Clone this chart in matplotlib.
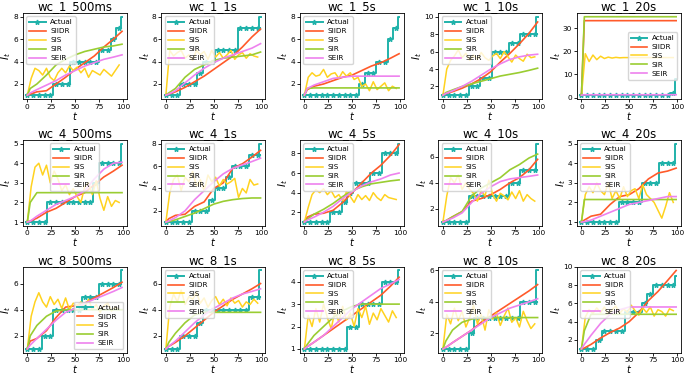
import numpy as np
import matplotlib
matplotlib.use('Agg')
import matplotlib.pyplot as plt

# panel titles, row by row
titles = ['wc_1_500ms', 'wc_1_1s', 'wc_1_5s', 'wc_1_10s', 'wc_1_20s',
          'wc_4_500ms', 'wc_4_1s', 'wc_4_5s', 'wc_4_10s', 'wc_4_20s',
          'wc_8_500ms', 'wc_8_1s', 'wc_8_5s', 'wc_8_10s', 'wc_8_20s']

# time points of each series
t_act = list(range(0, 100, 6)) + [99]
t_mod = [0, 3, 10, 20, 30, 40, 50, 60, 70, 80, 90, 99]
t_sis = list(range(0, 100, 4))

actual = [
    [1, 1, 1, 1, 1, 2, 2, 2, 4, 4, 4, 4, 4, 5, 5, 6, 7, 8],
    [1, 1, 1, 2, 2, 2, 3, 4, 4, 5, 5, 5, 5, 7, 7, 7, 7, 8],
    [1, 1, 1, 1, 1, 1, 1, 1, 1, 1, 2, 3, 3, 4, 4, 6, 7, 8],
    [1, 1, 1, 1, 1, 2, 2, 3, 3, 6, 6, 6, 7, 7, 8, 8, 8, 10],
    [1, 1, 1, 1, 1, 1, 1, 1, 1, 1, 1, 1, 1, 1, 1, 1, 2, 8],
    [1, 1, 1, 1, 2, 2, 2, 2, 2, 2, 2, 2, 3, 4, 4, 4, 4, 5],
    [1, 1, 1, 1, 1, 2, 2, 2, 3, 4, 4, 5, 6, 6, 6, 7, 7, 8],
    [1, 1, 1, 1, 1, 2, 2, 3, 4, 5, 5, 5, 6, 6, 8, 8, 8, 9],
    [1, 1, 1, 1, 1, 3, 3, 3, 3, 3, 3, 3, 4, 4, 5, 5, 5, 7],
    [1, 1, 1, 1, 1, 1, 1, 2, 2, 2, 2, 3, 3, 3, 4, 4, 4, 5],
    [1, 1, 1, 2, 2, 4, 4, 4, 4, 4, 5, 5, 5, 6, 6, 6, 6, 7],
    [1, 1, 1, 2, 2, 2, 3, 4, 4, 4, 4, 4, 4, 4, 4, 5, 5, 7],
    [1, 1, 1, 1, 1, 1, 1, 1, 2, 2, 3, 3, 3, 3, 4, 4, 4, 4.5],
    [1, 1, 1, 1, 1, 2, 3, 3, 3, 3, 3, 3, 3, 3, 4, 4, 4, 6],
    [1, 1, 1, 2, 3, 3, 3, 3, 5, 5, 5, 6, 7, 8, 8, 8, 8, 9],
]

siidr = [
    [1, 1.1, 1.3, 1.4, 2.0, 2.6, 3.3, 3.9, 4.5, 5.3, 6.0, 6.7],
    [1, 1.1, 1.3, 1.7, 2.2, 2.7, 3.3, 3.9, 4.5, 5.3, 6.2, 6.9],
    [1, 1.5, 1.8, 2.0, 2.3, 2.6, 2.8, 3.2, 3.6, 3.9, 4.3, 4.7],
    [1, 1.2, 1.4, 1.8, 2.3, 2.9, 3.7, 4.8, 5.8, 6.9, 8.1, 9.4],
    [1, 33.3, 33.3, 33.3, 33.3, 33.3, 33.3, 33.3, 33.3, 33.3, 33.3, 33.3],
    [1, 1.05, 1.2, 1.5, 1.7, 2.0, 2.3, 2.5, 2.9, 3.3, 3.6, 3.9],
    [1, 1.3, 1.6, 1.7, 2.4, 2.8, 4.0, 4.5, 5.8, 6.2, 6.8, 7.4],
    [1, 1.5, 1.8, 1.9, 2.2, 3.0, 4.0, 5.0, 6.0, 6.8, 7.8, 8.9],
    [1, 1.1, 1.4, 1.8, 2.6, 2.8, 3.1, 3.5, 4.0, 4.4, 5.0, 5.8],
    [1, 1.1, 1.3, 1.4, 1.9, 2.3, 2.4, 2.7, 3.2, 3.5, 3.6, 3.75],
    [1, 1.6, 1.8, 2.4, 3.4, 4.2, 4.3, 4.5, 4.9, 5.3, 5.7, 6.1],
    [1, 1.2, 1.5, 2.0, 2.6, 3.2, 3.8, 4.3, 4.8, 5.2, 5.6, 6.0],
    [1, 1.1, 1.3, 1.6, 1.9, 2.2, 2.5, 2.8, 3.1, 3.4, 3.8, 4.2],
    [1, 1.1, 1.4, 1.8, 2.2, 2.7, 3.1, 3.5, 3.9, 4.3, 4.7, 5.1],
    [1, 1.1, 1.5, 2.2, 2.8, 3.3, 4.0, 5.0, 6.3, 7.3, 8.5, 9.6],
]

sir = [
    [1, 1.6, 2.0, 2.8, 3.7, 4.2, 4.6, 4.9, 5.1, 5.3, 5.4, 5.55],
    [1, 1.2, 1.6, 2.6, 3.3, 3.7, 4.1, 4.3, 4.4, 4.5, 4.6, 4.85],
    [1, 1.6, 1.65, 1.65, 1.65, 1.65, 1.65, 1.65, 1.65, 1.65, 1.65, 1.65],
    [1, 1.3, 1.6, 2.0, 2.3, 2.6, 2.9, 3.2, 3.4, 3.6, 3.85, 4.1],
    [1, 35, 35, 35, 35, 35, 35, 35, 35, 35, 35, 35],
    [1, 2.0, 2.5, 2.5, 2.5, 2.5, 2.5, 2.5, 2.5, 2.5, 2.5, 2.5],
    [1, 1.05, 1.2, 1.5, 1.8, 2.2, 2.6, 2.85, 3.0, 3.1, 3.15, 3.15],
    [1, 1.3, 1.8, 2.3, 2.9, 3.6, 4.2, 4.6, 4.9, 5.05, 5.2, 5.3],
    [1, 1.1, 1.4, 1.8, 3.0, 3.6, 4.0, 4.4, 5.0, 5.4, 5.9, 6.2],
    [1, 2.15, 2.15, 2.15, 2.15, 2.15, 2.15, 2.15, 2.15, 2.15, 2.15, 2.15],
    [1, 2.0, 2.8, 3.5, 3.9, 4.0, 4.0, 4.0, 4.0, 4.0, 4.0, 4.0],
    [1, 1.5, 2.2, 3.0, 3.6, 3.8, 3.8, 3.8, 3.8, 3.8, 3.8, 3.8],
    [1, 1.2, 1.6, 2.0, 2.4, 2.7, 2.9, 3.0, 3.0, 3.0, 3.0, 3.0],
    [1, 1.5, 2.2, 2.7, 2.9, 3.0, 3.0, 3.0, 3.0, 3.0, 3.0, 3.0],
    [1, 3.0, 4.8, 4.8, 4.8, 4.8, 4.8, 4.8, 4.8, 4.8, 4.8, 4.8],
]

seir = [
    [1, 1.2, 1.5, 1.9, 2.3, 2.8, 3.2, 3.6, 3.9, 4.2, 4.4, 4.6],
    [1, 1.1, 1.4, 2.1, 2.8, 3.4, 3.9, 4.3, 4.6, 4.9, 5.2, 5.6],
    [1, 1.6, 1.9, 2.2, 2.5, 2.6, 2.7, 2.7, 2.7, 2.7, 2.7, 2.7],
    [1, 1.2, 1.5, 2.0, 2.6, 3.3, 4.0, 4.6, 5.1, 5.4, 5.6, 5.7],
    [1, 1.2, 1.2, 1.2, 1.2, 1.2, 1.2, 1.2, 1.2, 1.2, 1.2, 1.2],
    [1, 1.05, 1.3, 1.6, 1.9, 2.1, 2.3, 2.6, 3.2, 3.7, 4.0, 4.05],
    [1, 1.1, 1.4, 2.0, 3.0, 3.8, 4.6, 5.3, 5.8, 6.1, 6.4, 6.7],
    [1, 1.2, 1.5, 2.0, 2.6, 3.4, 4.1, 4.7, 5.1, 5.4, 5.8, 6.0],
    [1, 1.1, 1.3, 1.7, 2.5, 3.2, 3.7, 4.1, 4.3, 4.4, 4.5, 4.6],
    [1, 1.02, 1.1, 1.3, 1.5, 1.7, 1.9, 2.0, 2.1, 2.2, 2.3, 2.3],
    [1, 1.3, 1.8, 2.5, 3.2, 3.8, 4.1, 4.5, 4.8, 5.1, 5.4, 5.7],
    [1, 1.2, 1.6, 2.3, 3.0, 3.6, 4.1, 4.5, 4.9, 5.2, 5.4, 5.6],
    [1, 1.1, 1.3, 1.6, 2.0, 2.4, 2.8, 3.1, 3.4, 3.7, 3.9, 4.1],
    [1, 1.1, 1.4, 1.8, 2.2, 2.6, 3.0, 3.3, 3.6, 3.8, 4.0, 4.2],
    [1, 1.5, 2.5, 3.8, 4.8, 5.3, 5.6, 5.6, 5.6, 5.6, 5.6, 5.6],
]

sis = [
    [1, 2.5, 3.4, 3.2, 2.8, 3.4, 2.6, 2.3, 3.0, 3.4, 3.0, 3.6, 3.2, 3.5, 3.0, 3.4, 2.6, 3.2, 3.0, 2.8, 3.3, 3.0, 2.7, 3.2, 3.7],
    [1, 5.0, 4.5, 4.8, 5.0, 4.3, 4.6, 4.1, 5.0, 4.6, 4.9, 4.2, 5.0, 4.4, 4.8, 4.3, 4.6, 5.0, 4.2, 4.6, 4.8, 4.3, 4.7, 4.5, 4.4],
    [1, 2.6, 3.0, 2.7, 2.8, 3.3, 2.6, 2.9, 3.0, 2.5, 3.1, 2.7, 3.0, 2.4, 2.6, 1.8, 2.0, 1.4, 2.2, 1.5, 1.8, 2.1, 1.4, 1.8, 1.6],
    [1, 4.0, 5.0, 5.5, 6.2, 5.3, 5.8, 5.0, 5.6, 5.1, 5.9, 5.3, 5.0, 5.5, 5.8, 5.2, 6.0, 5.4, 4.8, 5.6, 5.2, 4.9, 5.7, 5.3, 5.4],
    [1, 19.0, 15.6, 18.4, 16.4, 17.9, 16.9, 17.5, 17.1, 17.4, 17.2, 17.3, 17.3, 17.3, 17.3, 17.3, 17.3, 17.3, 17.3, 17.3, 17.3, 17.3, 17.3, 17.3, 17.3],
    [1, 2.8, 3.8, 4.0, 3.4, 3.9, 3.0, 3.6, 3.2, 2.6, 2.9, 2.4, 2.7, 2.3, 2.0, 2.8, 3.0, 2.4, 3.1, 2.2, 1.6, 2.3, 1.8, 2.1, 2.0],
    [1, 3.6, 4.8, 5.2, 3.8, 5.0, 4.6, 5.5, 4.2, 4.8, 3.8, 5.2, 4.6, 5.0, 4.2, 4.8, 4.4, 4.6, 4.9, 3.2, 4.0, 3.6, 4.8, 4.3, 4.4],
    [1, 2.5, 3.8, 4.3, 4.0, 4.4, 3.8, 4.2, 3.5, 3.8, 3.2, 4.1, 3.6, 3.0, 3.8, 3.3, 3.7, 3.2, 4.0, 3.5, 3.2, 3.8, 3.5, 3.4, 3.3],
    [1, 3.0, 4.4, 4.0, 4.6, 3.5, 4.0, 3.5, 3.2, 2.6, 3.4, 3.0, 4.2, 3.1, 2.6, 3.2, 3.0, 2.7, 3.3, 2.8, 3.4, 2.6, 3.1, 2.8, 2.6],
    [1, 2.4, 2.8, 2.5, 3.0, 2.6, 2.4, 3.0, 2.2, 2.6, 2.2, 2.8, 2.3, 2.6, 2.7, 2.2, 2.9, 2.4, 2.2, 2.0, 1.6, 1.2, 1.8, 2.5, 2.0],
    [1, 3.5, 4.6, 5.3, 4.6, 4.2, 5.0, 4.4, 4.8, 4.1, 4.9, 4.0, 4.5, 4.3, 4.6, 4.2, 4.8, 4.0, 4.4, 3.8, 4.3, 4.5, 3.9, 4.2, 4.0],
    [1, 4.2, 5.2, 4.6, 5.5, 4.4, 5.0, 4.8, 5.3, 4.5, 4.9, 4.2, 4.7, 5.0, 4.4, 4.8, 4.3, 4.9, 4.5, 4.7, 4.2, 4.6, 4.4, 4.8, 4.5],
    [1, 2.5, 2.0, 2.8, 2.2, 3.0, 2.4, 1.9, 2.7, 2.2, 2.9, 2.3, 2.6, 2.0, 2.8, 2.4, 2.9, 2.1, 2.6, 2.3, 2.8, 2.5, 2.2, 2.7, 2.4],
    [1, 3.2, 2.6, 3.6, 2.8, 3.4, 2.4, 3.0, 3.8, 2.6, 3.2, 2.2, 3.5, 2.9, 3.3, 2.5, 3.1, 3.6, 2.7, 3.0, 2.4, 3.4, 2.8, 2.3, 2.6],
    [1, 4.5, 5.3, 4.9, 5.5, 5.0, 5.6, 4.8, 5.3, 5.7, 4.9, 5.4, 5.0, 5.8, 5.2, 4.7, 5.5, 5.0, 5.6, 4.6, 5.3, 5.1, 4.6, 5.4, 5.2],
]

legend_loc = ['upper left', 'upper left', 'upper left', 'upper left', 'center right',
              'upper center', 'upper left', 'upper left', 'upper left', 'upper left',
              'lower right', 'upper left', 'upper left', 'upper left', 'upper left']

fig, axes = plt.subplots(3, 5, figsize=(6.85, 3.77), dpi=100)
fig.subplots_adjust(left=0.033, right=0.994, top=0.966, bottom=0.064,
                    wspace=0.33, hspace=0.47)

for i, ax in enumerate(axes.flat):
    ax.plot(t_act, actual[i], color='#20b2aa', lw=1.4, marker='*', ms=3.5,
            drawstyle='steps-mid', markevery=range(len(t_act) - 1), label='Actual')
    ax.plot(t_mod, siidr[i], color='#ff5a2a', lw=1.2, label='SIIDR')
    ax.plot(t_sis, sis[i], color='#ffd21f', lw=1.1, label='SIS')
    ax.plot(t_mod, sir[i], color='#9acd32', lw=1.2, label='SIR')
    ax.plot(t_mod, seir[i], color='#ee82ee', lw=1.2, label='SEIR')
    ax.set_title(titles[i], fontsize=8.5, pad=2)
    ax.set_xticks([0, 25, 50, 75, 100])
    ax.tick_params(labelsize=5.3, length=2, pad=1.2, width=0.6)
    ax.set_xlabel('$t$', fontsize=7, labelpad=0)
    ax.set_ylabel('$I_t$', fontsize=7.5, labelpad=0)
    for sp in ax.spines.values():
        sp.set_linewidth(0.6)
    ax.legend(loc=legend_loc[i], fontsize=5.2, handlelength=2.3,
              borderpad=0.4, labelspacing=0.4, handletextpad=0.6)

fig.savefig('out.png', dpi=100)
